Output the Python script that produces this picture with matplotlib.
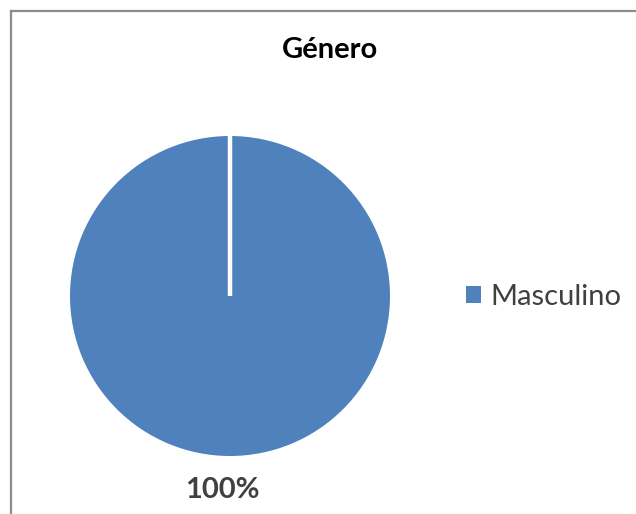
import matplotlib
matplotlib.use("Agg")
import matplotlib.pyplot as plt
from matplotlib.lines import Line2D
from matplotlib.patches import Patch

plt.rcParams['font.family'] = ['Lato', 'DejaVu Sans']

categories = ["Masculino"]
values = [100]
labels = ["100%"]
title = "Género"
colors = ["#4F81BD"]
text_color = "#404040"

W, H = 636, 514
fig = plt.figure(figsize=(W/100, H/100), dpi=100)

cx, cy, r = 230, 296, 160
ax = fig.add_axes([(cx-r)/W, (H-cy-r)/H, 2*r/W, 2*r/H])
wedges, _ = ax.pie(values, colors=colors, startangle=90, counterclock=False,
                   radius=1, wedgeprops=dict(edgecolor="none", linewidth=0))
# slice boundary (white radial edge at the start angle)
ax.plot([0, 0], [0, 1.0], color="white", linewidth=3.2, solid_capstyle='butt')
ax.set_xlim(-1, 1)
ax.set_ylim(-1, 1)
ax.set_aspect('equal')
ax.axis('off')

fig.text(330/W, 1-50/H, title, ha='center', va='center', fontsize=21,
         fontweight='bold', color='black')
fig.text(222/W, 1-490/H, labels[0], ha='center', va='center', fontsize=21,
         fontweight='bold', color=text_color)

handles = [Patch(facecolor=c, edgecolor='none') for c in colors]
leg = fig.legend(handles, categories, loc='center left',
                 bbox_to_anchor=(466/W, 1-297/H), frameon=False,
                 fontsize=21, handlelength=0.5, handleheight=0.5,
                 handletextpad=0.35, borderaxespad=0, borderpad=0)
for t in leg.get_texts():
    t.set_color(text_color)

# outer border (only left and top visible)
fig.add_artist(Line2D([10.5/W, 10.5/W], [0, 1-10.5/H], transform=fig.transFigure,
                      color="#8c8c8c", linewidth=1.6))
fig.add_artist(Line2D([10.5/W, 1], [1-10.5/H, 1-10.5/H], transform=fig.transFigure,
                      color="#8c8c8c", linewidth=1.6))

fig.savefig("out.png", dpi=100, facecolor="white")
